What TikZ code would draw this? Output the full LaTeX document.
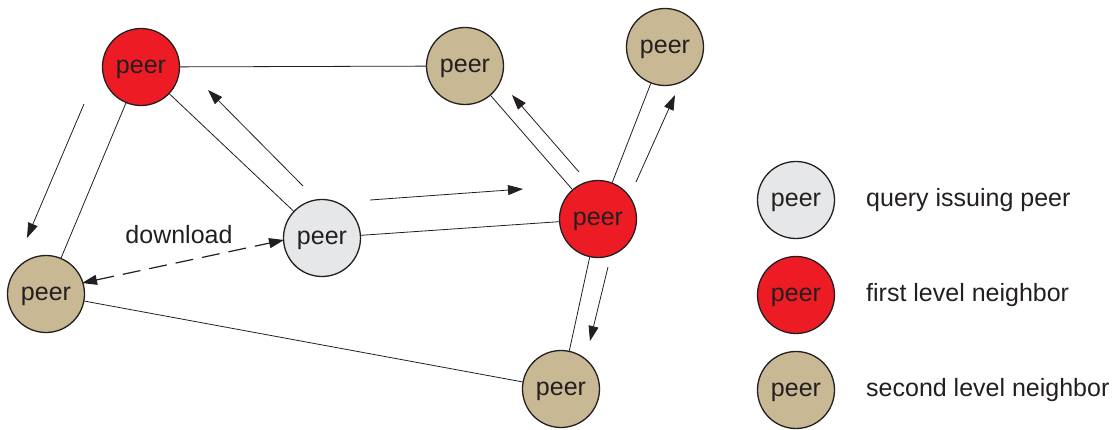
\documentclass[tikz,border=0pt]{standalone}
\usepackage{fontspec}
\setmainfont{Liberation Sans}
\usetikzlibrary{arrows.meta}
\definecolor{pred}{HTML}{ED1C24}
\definecolor{ptan}{HTML}{C8B893}
\definecolor{pgrey}{HTML}{E6E7E8}
\definecolor{ink}{HTML}{231F20}
\begin{document}
\begin{tikzpicture}[x=1pt,y=-1pt,
  peernode/.style={circle,draw=ink,line width=1.3pt,minimum size=77pt,inner sep=0pt,
    font=\fontsize{25}{25}\selectfont,text=ink,text depth=0pt},
  redpeer/.style={peernode,fill=pred},
  tanpeer/.style={peernode,fill=ptan},
  greypeer/.style={peernode,fill=pgrey},
  link/.style={draw=ink,line width=0.8pt},
  msg/.style={draw=ink,line width=0.8pt,-{Triangle[length=15pt,width=10pt]}},
  dl/.style={draw=ink,line width=1.2pt,dash pattern=on 18pt off 9pt,
    {Triangle[length=15pt,width=10pt]}-{Triangle[length=15pt,width=10pt]}},
  lbl/.style={font=\fontsize{25}{25}\selectfont,text=ink,inner sep=0pt}]
\useasboundingbox (0,0) rectangle (1120,430);
% nodes
\node[redpeer]  (A) at (141,67)  {peer};
\node[tanpeer]  (B) at (465,66)  {peer};
\node[tanpeer]  (C) at (665,47)  {peer};
\node[redpeer]  (D) at (598,219) {peer};
\node[greypeer] (E) at (322,238) {peer};
\node[tanpeer]  (F) at (46,294)  {peer};
\node[tanpeer]  (G) at (561,389) {peer};
% links
\draw[link] (A) -- (B);
\draw[link] (A) -- (E);
\draw[link] (A) -- (F);
\draw[link] (E) -- (D);
\draw[link] (B) -- (D);
\draw[link] (C) -- (D);
\draw[link] (D) -- (G);
\draw[link] (F) -- (G);
% message arrows
\coordinate (a1s) at (84,104);  \coordinate (a1e) at (27,238);
\coordinate (a2s) at (303,186); \coordinate (a2e) at (208,90);
\coordinate (a3s) at (370,200); \coordinate (a3e) at (523,189);
\coordinate (a4s) at (579,172); \coordinate (a4e) at (512,95);
\coordinate (a5s) at (636,182); \coordinate (a5e) at (675,95);
\coordinate (a6s) at (608,267); \coordinate (a6e) at (590,341);
\draw[msg] (a1s) -- (a1e);
\draw[msg] (a2s) -- (a2e);
\draw[msg] (a3s) -- (a3e);
\draw[msg] (a4s) -- (a4e);
\draw[msg] (a5s) -- (a5e);
\draw[msg] (a6s) -- (a6e);
% download
\coordinate (d1) at (82,283);
\coordinate (d2) at (284,240);
\draw[dl] (d1) -- (d2);
\node[lbl] (dltext) at (179,235) {download};
% legend
\node[greypeer] (L1) at (796,200) {peer};
\node[redpeer]  (L2) at (796,295) {peer};
\node[tanpeer]  (L3) at (796,390) {peer};
\node[lbl,anchor=west] (T1) at (866,200) {query issuing peer};
\node[lbl,anchor=west] (T2) at (866,295) {first level neighbor};
\node[lbl,anchor=west] (T3) at (866,390) {second level neighbor};
\end{tikzpicture}
\end{document}
